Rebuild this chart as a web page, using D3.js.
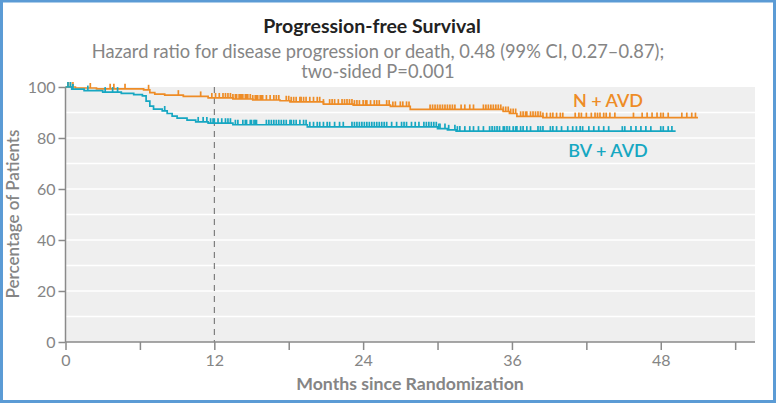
<!DOCTYPE html>
<html><head><meta charset="utf-8">
<script src="https://cdn.jsdelivr.net/npm/d3@7"></script>
<style>
html,body{margin:0;padding:0;background:#fff;}
svg{display:block;}
text{font-family:Lato,"Open Sans",sans-serif;}
</style></head>
<body><svg id="chart" width="776" height="403"></svg>
<script>
// ---------- data ----------
const title = "Progression-free Survival";
const subtitle1 = "Hazard ratio for disease progression or death, 0.48 (99% CI, 0.27\u20130.87);";
const subtitle2 = "two-sided P=0.001";
const xTitle = "Months since Randomization";
const yTitle = "Percentage of Patients";
const xTickValues = [0, 6, 12, 18, 24, 30, 36, 42, 48, 54];
const xTickLabels = ["0", "", "12", "", "24", "", "36", "", "48", ""];
const yTickValues = [0, 20, 40, 60, 80, 100];
const seriesNames = ["N + AVD", "BV + AVD"];

// step points [month, percent]
const nAvdSteps = [[0,100],[0.8,99.6],[2.5,99.3],[6.3,98.9],[6.8,97.8],[7.2,97.2],[8.0,96.8],[9.5,96.3],[11.5,95.7],[13.5,95.3],[15.1,94.9],[17.3,94.6],[18.1,94.2],[20.8,93.3],[23.2,92.9],[26.2,92.4],[27.8,91.2],[35.3,90.4],[35.8,89.6],[36.4,88.5],[38.5,88.0]];
const nAvdEnd = 51.0;
const nAvdCensor = [0.2,0.4,0.6,2.0,3.6,3.9,4.8,6.7,9.1,10.9,11.8,12.1,12.4,12.7,12.9,13.1,13.3,13.5,13.7,13.8,14.0,14.1,14.2,14.3,14.5,14.6,14.7,14.9,15.1,15.3,15.4,15.5,15.7,15.8,15.9,16.2,16.5,16.8,17.0,17.2,17.8,18.0,18.2,18.4,18.6,18.9,19.0,19.2,19.4,19.7,20.0,20.3,20.5,20.8,21.3,21.5,21.7,22.0,22.3,22.5,22.7,22.9,23.1,23.3,23.5,23.7,24.0,24.2,24.3,24.6,24.9,25.1,25.3,25.9,26.1,26.4,26.6,27.0,27.2,27.5,27.7,29.4,29.6,29.8,30.0,30.2,30.4,30.6,30.8,31.0,31.2,31.4,31.9,32.2,32.6,32.9,33.7,33.9,34.1,34.3,34.5,34.7,34.9,35.1,35.3,35.5,35.7,35.9,36.1,36.3,36.7,36.9,37.1,37.2,37.5,37.7,37.9,38.1,38.3,38.5,38.8,39.1,39.3,39.6,39.9,40.1,41.1,41.4,41.6,42.0,42.4,42.7,42.9,43.1,43.4,43.6,43.9,44.3,45.8,46.5,46.9,47.3,47.7,48.0,48.2,48.6,49.7,50.1,50.5,50.8];

const bvAvdSteps = [[0,100],[0.5,99.2],[1.5,98.6],[3.0,98.0],[4.5,97.5],[5.5,97.0],[6.2,96.5],[6.5,94.5],[6.8,92.5],[7.1,91.3],[7.8,90.6],[8.2,89.6],[8.6,88.6],[9.0,87.8],[9.8,87.0],[10.5,86.3],[11.5,85.8],[13.5,85.2],[19.5,84.4],[30.0,83.7],[30.8,83.2],[31.5,82.7]];
const bvAvdEnd = 49.2;
const bvAvdCensor = [0.2,0.4,0.6,1.8,3.2,3.8,4.2,8.0,10.7,11.1,11.4,11.7,11.9,12.0,12.3,12.6,12.9,13.1,13.3,13.7,13.9,14.3,14.5,14.6,14.9,15.0,15.2,15.3,15.4,16.2,16.4,16.6,16.8,17.0,17.2,17.4,17.6,17.8,18.1,18.2,18.4,18.6,18.9,19.2,19.4,19.7,20.0,20.3,20.5,20.8,21.1,21.3,21.7,22.1,22.4,23.1,23.3,23.5,23.7,23.9,24.1,24.3,24.5,24.7,24.9,25.1,25.3,25.5,25.7,25.9,26.3,26.7,27.1,27.3,27.5,27.9,28.2,28.5,28.9,29.1,29.3,29.5,29.7,29.9,30.1,30.2,30.6,30.9,31.4,31.6,31.8,32.2,32.6,32.9,33.3,33.7,34.2,34.4,34.6,34.8,35.0,35.3,35.4,35.6,35.8,36.1,36.3,36.4,36.7,36.9,37.2,37.5,38.1,38.3,38.5,39.1,39.3,39.6,40.0,40.5,40.9,41.2,41.5,41.7,42.2,42.6,43.0,43.4,43.8,44.9,45.1,45.6,46.0,46.4,46.8,47.2,48.0,48.2,48.6,48.9];

const landmarkMonth = 12;

// ---------- drawing ----------
const orange = "#ee8c26", teal = "#16a7c2", grayText = "#858585", axisCol = "#8a8a8a";
const svg = d3.select("#chart");
const x = d3.scaleLinear().domain([0, 55.6]).range([65.5, 755]);
const y = d3.scaleLinear().domain([0, 100]).range([342, 87]);

// frame
svg.append("rect").attr("x",1.5).attr("y",1).attr("width",773).attr("height",400.5)
  .attr("fill","#fff").attr("stroke","#5b9bd5").attr("stroke-width",3);

// plot background
svg.append("rect").attr("x",x(0)).attr("y",y(100)).attr("width",x(55.6)-x(0)).attr("height",y(0)-y(100)).attr("fill","#efefef");
// gridlines
svg.append("g").selectAll("line").data(d3.range(10,100,10)).join("line")
  .attr("x1",x(0)).attr("x2",x(55.6)).attr("y1",d=>y(d)).attr("y2",d=>y(d))
  .attr("stroke","#fff").attr("stroke-width",1.3);

// landmark dashed line
svg.append("line").attr("x1",x(landmarkMonth)).attr("x2",x(landmarkMonth)).attr("y1",y(100)).attr("y2",y(0))
  .attr("stroke","#666").attr("stroke-width",1).attr("stroke-dasharray","6,5");

// axes
const xAxis = d3.axisBottom(x).tickValues(xTickValues).tickFormat((d,i)=>xTickLabels[i]).tickSize(8).tickPadding(5);
const gx = svg.append("g").attr("transform",`translate(0,${y(0)})`).call(xAxis);
gx.select(".domain").attr("stroke",axisCol).attr("stroke-width",1.5).attr("d",`M${x(0)},0H${x(55.6)}`);
gx.selectAll(".tick line").attr("stroke",axisCol).attr("stroke-width",1.5);
gx.selectAll(".tick text").attr("fill",grayText).style("font-size","16px").style("font-family","Lato, sans-serif");

const yAxis = d3.axisLeft(y).tickValues(yTickValues).tickSize(7).tickPadding(3);
const gy = svg.append("g").attr("transform",`translate(${x(0)},0)`).call(yAxis);
gy.select(".domain").attr("stroke",axisCol).attr("stroke-width",1.5).attr("d",`M0,${y(100)}V${y(0)}`);
gy.selectAll(".tick line").attr("stroke",axisCol).attr("stroke-width",1.5);
gy.selectAll(".tick text").attr("fill",grayText).style("font-size","16px").style("font-family","Lato, sans-serif");

// curves
function drawSeries(steps, end, censor, color){
  const pts = steps.concat([[end, steps[steps.length-1][1]]]);
  const line = d3.line().x(d=>x(d[0])).y(d=>y(d[1])).curve(d3.curveStepAfter);
  svg.append("path").datum(pts).attr("d",line).attr("fill","none").attr("stroke",color).attr("stroke-width",1.7);
  const valAt = t => { let v = steps[0][1]; for (const s of steps) { if (s[0] <= t) v = s[1]; } return v; };
  svg.append("g").selectAll("line").data(censor).join("line")
    .attr("x1",d=>x(d)).attr("x2",d=>x(d)).attr("y1",d=>y(valAt(d))).attr("y2",d=>y(valAt(d))-5)
    .attr("stroke",color).attr("stroke-width",1.7);
}
drawSeries(nAvdSteps, nAvdEnd, nAvdCensor, orange);
drawSeries(bvAvdSteps, bvAvdEnd, bvAvdCensor, teal);

// series labels
svg.append("text").attr("x",608).attr("y",107).attr("text-anchor","middle").attr("fill",orange)
  .style("font-size","18px").style("font-weight","600").text(seriesNames[0]);
svg.append("text").attr("x",608).attr("y",157).attr("text-anchor","middle").attr("fill",teal)
  .style("font-size","18px").style("font-weight","600").text(seriesNames[1]);

// titles
svg.append("text").attr("x",372).attr("y",33).attr("text-anchor","middle").attr("fill","#222")
  .style("font-size","19.5px").style("font-weight","bold").text(title);
svg.append("text").attr("x",378).attr("y",58).attr("text-anchor","middle").attr("fill",grayText)
  .style("font-size","18.3px").text(subtitle1);
svg.append("text").attr("x",378).attr("y",78).attr("text-anchor","middle").attr("fill",grayText)
  .style("font-size","18.3px").text(subtitle2);
svg.append("text").attr("x",410).attr("y",390).attr("text-anchor","middle").attr("fill",grayText)
  .style("font-size","17.7px").style("font-weight","bold").text(xTitle);
svg.append("text").attr("transform","translate(19,214) rotate(-90)").attr("text-anchor","middle").attr("fill",grayText)
  .style("font-size","17px").style("font-weight","600").text(yTitle);
</script></body></html>
